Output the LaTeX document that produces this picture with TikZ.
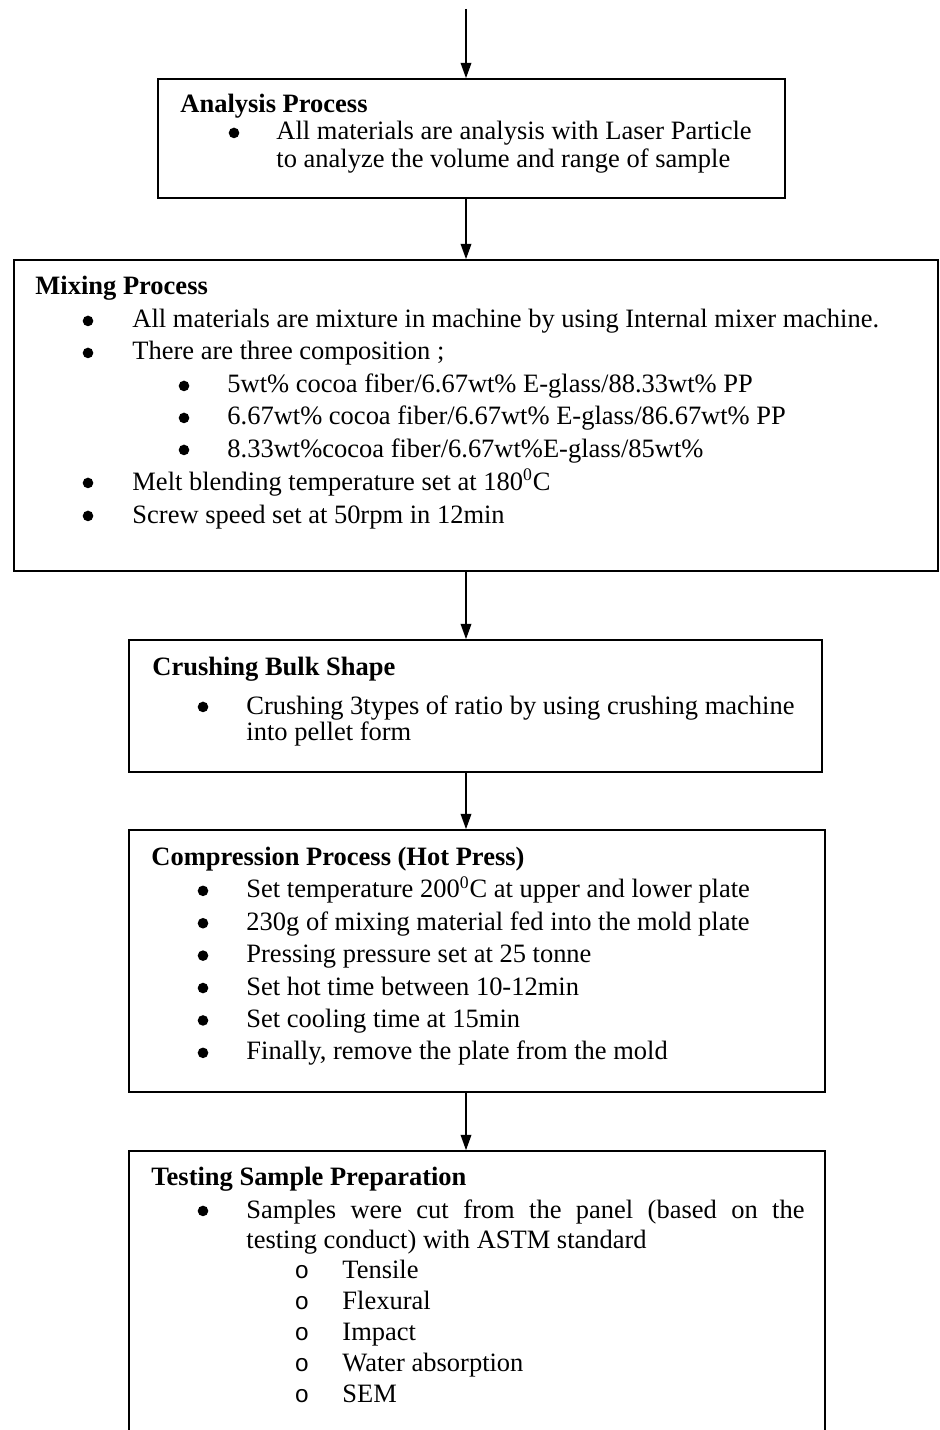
\documentclass[12pt,tikz,border=0pt]{standalone}
\usepackage{fontspec}
\setmainfont{Liberation Serif}
\setmonofont{Liberation Mono}
\usetikzlibrary{arrows.meta, fit}

\newcommand{\listring}{{\fontsize{11}{11}\selectfont\texttt{o}}}

\tikzset{
  procbox/.style={draw, line width=0.7pt, inner sep=0pt},
  flow/.style={-{Triangle[length=7pt, width=4.8pt]}, line width=0.8pt},
  head/.style={anchor=base west, inner sep=0pt, font=\bfseries},
  txt/.style={anchor=base west, inner sep=0pt},
  listdot/.style={circle, fill, inner sep=0pt, minimum size=4.8pt, yshift=3.2pt},
  bul/.style={anchor=base, inner sep=0pt}
}

\begin{document}
\begin{tikzpicture}[x=0.453pt, y=-0.453pt]
\useasboundingbox (0,0) rectangle (939,1430);

\coordinate (start) at (466,9);
\node[procbox, fit={(158,79) (785,198)}] (analysis) {};
\node[procbox, fit={(14,260) (938,571)}] (mixing) {};
\node[procbox, fit={(129,640) (822,772)}] (crushing) {};
\node[procbox, fit={(129,830) (825,1092)}] (compression) {};
\node[procbox, fit={(129,1151) (825,1450)}] (testing) {};

\draw[flow] (start) -- (start |- analysis.north);
\draw[flow] (analysis.south -| start) -- (mixing.north -| start);
\draw[flow] (mixing.south -| start) -- (crushing.north -| start);
\draw[flow] (crushing.south -| start) -- (compression.north -| start);
\draw[flow] (compression.south -| start) -- (testing.north -| start);

\node[head] (analysisHead) at (180,113) {Analysis Process};
\node[listdot] at (234,140) {};
\node[txt] (analysisA) at (276,140) {All materials are analysis with Laser Particle};
\node[txt] (analysisB) at (276,168) {to analyze the volume and range of sample};

\node[head] (mixingHead) at (35,295) {Mixing Process};
\node[listdot] at (88,328) {};
\node[txt] (mixingA) at (132,328) {All materials are mixture in machine by using Internal mixer machine.};
\node[listdot] at (88,360) {};
\node[txt] (mixingB) at (132,360) {There are three composition ;};
\node[listdot] at (184,393) {};
\node[txt] (ratioA) at (227,393) {5wt\% cocoa fiber/6.67wt\% E-glass/88.33wt\% PP};
\node[listdot] at (184,425) {};
\node[txt] (ratioB) at (227,425) {6.67wt\% cocoa fiber/6.67wt\% E-glass/86.67wt\% PP};
\node[listdot] at (184,457) {};
\node[txt] (ratioC) at (227,457) {8.33wt\%cocoa fiber/6.67wt\%E-glass/85wt\%};
\node[listdot] at (88,490) {};
\node[txt] (mixingC) at (132,490) {Melt blending temperature set at 180\textsuperscript{0}C};
\node[listdot] at (88,523) {};
\node[txt] (mixingD) at (132,523) {Screw speed set at 50rpm in 12min};

\node[head] (crushingHead) at (152,675) {Crushing Bulk Shape};
\node[listdot] at (203,714) {};
\node[txt] (crushingA) at (246,714) {Crushing 3types of ratio by using crushing machine};
\node[txt] (crushingB) at (246,740) {into pellet form};

\node[head] (compressionHead) at (151,865) {Compression Process (Hot Press)};
\foreach \entry [count=\i] in {{Set temperature 200\textsuperscript{0}C at upper and lower plate},
    {230g of mixing material fed into the mold plate},
    {Pressing pressure set at 25 tonne},
    {Set hot time between 10-12min},
    {Set cooling time at 15min},
    {Finally, remove the plate from the mold}} {
  \node[listdot] at (203,{865.5+32.4*\i}) {};
  \node[txt] (comp\i) at (246,{865.5+32.4*\i}) {\entry};
}

\node[head] (testingHead) at (151,1185) {Testing Sample Preparation};
\node[listdot] at (203,1218) {};
\node[txt] (testingA) at (246,1218) {\makebox[252.8pt][s]{Samples were cut from the panel (based on the}};
\node[txt] (testingB) at (246,1248) {testing conduct) with ASTM standard};
\foreach \entry [count=\i] in {Tensile, Flexural, Impact, Water absorption, SEM} {
  \node[bul] at (302,{1247+31*\i}) {\listring};
  \node[txt] (test\i) at (342,{1247+31*\i}) {\entry};
}
\end{tikzpicture}
\end{document}
